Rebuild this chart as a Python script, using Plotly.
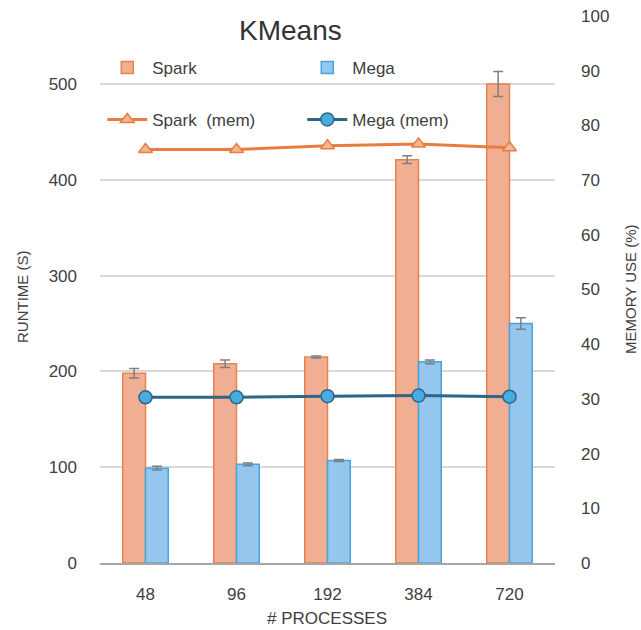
import plotly.graph_objects as go

categories = ["48", "96", "192", "384", "720"]
spark_runtime = [198, 208, 215, 421, 500]
spark_err = [5, 4, 1, 4, 13]
mega_runtime = [99, 103, 107, 210, 250]
mega_err = [2, 1.5, 1, 2, 6]
spark_mem = [75.6, 75.6, 76.3, 76.6, 75.9]
mega_mem = [30.3, 30.3, 30.5, 30.6, 30.4]
left_ticks = [0, 100, 200, 300, 400, 500]
right_ticks = [0, 10, 20, 30, 40, 50, 60, 70, 80, 90, 100]

FONT = "Liberation Sans, Arial, sans-serif"
TXT = "#404040"

fig = go.Figure()
fig.add_trace(go.Bar(
    x=categories, y=spark_runtime, name="Spark", legend="legend",
    marker=dict(color="#F0AE93", line=dict(color="#E8834F", width=1.5)),
    error_y=dict(type="data", array=spark_err, color="#7F7F7F", thickness=1.5, width=5),
))
fig.add_trace(go.Bar(
    x=categories, y=mega_runtime, name="Mega", legend="legend",
    marker=dict(color="#95C6EE", line=dict(color="#45A5DD", width=1.5)),
    error_y=dict(type="data", array=mega_err, color="#7F7F7F", thickness=1.5, width=5),
))
fig.add_trace(go.Scatter(
    x=categories, y=spark_mem, name="Spark  (mem)", yaxis="y2", legend="legend2",
    mode="lines+markers",
    line=dict(color="#E97D3F", width=3),
    marker=dict(symbol="triangle-up", size=12, color="#F4B596",
                line=dict(color="#E97D3F", width=1.5)),
))
fig.add_trace(go.Scatter(
    x=categories, y=mega_mem, name="Mega (mem)", yaxis="y2", legend="legend2",
    mode="lines+markers",
    line=dict(color="#2D6688", width=3),
    marker=dict(symbol="circle", size=13, color="#49ACE0",
                line=dict(color="#2D6688", width=1.5)),
))

fig.update_layout(
    width=641, height=630,
    margin=dict(l=100, r=86, t=16, b=67, autoexpand=False),
    paper_bgcolor="white", plot_bgcolor="white",
    font=dict(family=FONT, color=TXT, size=16),
    barmode="group", bargap=0.5, bargroupgap=0,
    showlegend=True,
    legend=dict(orientation="h", x=0.005, y=0.905, xanchor="left", yanchor="middle",
                entrywidth=145, entrywidthmode="pixels", traceorder="normal",
                font=dict(size=17, color=TXT), bgcolor="rgba(0,0,0,0)", itemwidth=40),
    legend2=dict(orientation="h", x=0.005, y=0.81, xanchor="left", yanchor="middle",
                 entrywidth=145, entrywidthmode="pixels", traceorder="normal",
                 font=dict(size=17, color=TXT), bgcolor="rgba(0,0,0,0)", itemwidth=40),
    xaxis=dict(type="category", showgrid=False, showline=True, linecolor="#A6A6A6",
               linewidth=2, ticks="", tickfont=dict(size=17, color=TXT),
               ticklabelstandoff=15),
    yaxis=dict(range=[0, 571], tickvals=left_ticks, showgrid=True, gridcolor="#D9D9D9",
               gridwidth=1.5, zeroline=False, showline=False, ticks="",
               tickfont=dict(size=17, color=TXT), ticklabelstandoff=22),
    yaxis2=dict(range=[0, 100], tickvals=right_ticks, overlaying="y", side="right",
                showgrid=False, zeroline=False, showline=False, ticks="",
                tickfont=dict(size=17, color=TXT), ticklabelstandoff=25),
    annotations=[
        dict(text="KMeans", x=290, y=31, showarrow=False,
             font=dict(size=28, color="#333333")),
        dict(text="RUNTIME (S)", x=22, y=297, textangle=-90, showarrow=False,
             font=dict(size=15, color=TXT)),
        dict(text="MEMORY USE (%)", x=630, y=290, textangle=-90, showarrow=False,
             font=dict(size=15, color=TXT)),
        dict(text="# PROCESSES", x=327, y=618, showarrow=False,
             font=dict(size=17, color=TXT)),
    ],
)

# convert pixel positions of annotations to paper coordinates
pl, pr, pt, pb = 100, 641 - 86, 16, 630 - 67
new_ann = []
for a in fig.layout.annotations:
    a.xref = "paper"
    a.yref = "paper"
    a.x = (a.x - pl) / (pr - pl)
    a.y = (pb - a.y) / (pb - pt)
    a.xanchor = "center"
    a.yanchor = "middle"
    new_ann.append(a)
fig.layout.annotations = new_ann

fig.write_html("out.html")
